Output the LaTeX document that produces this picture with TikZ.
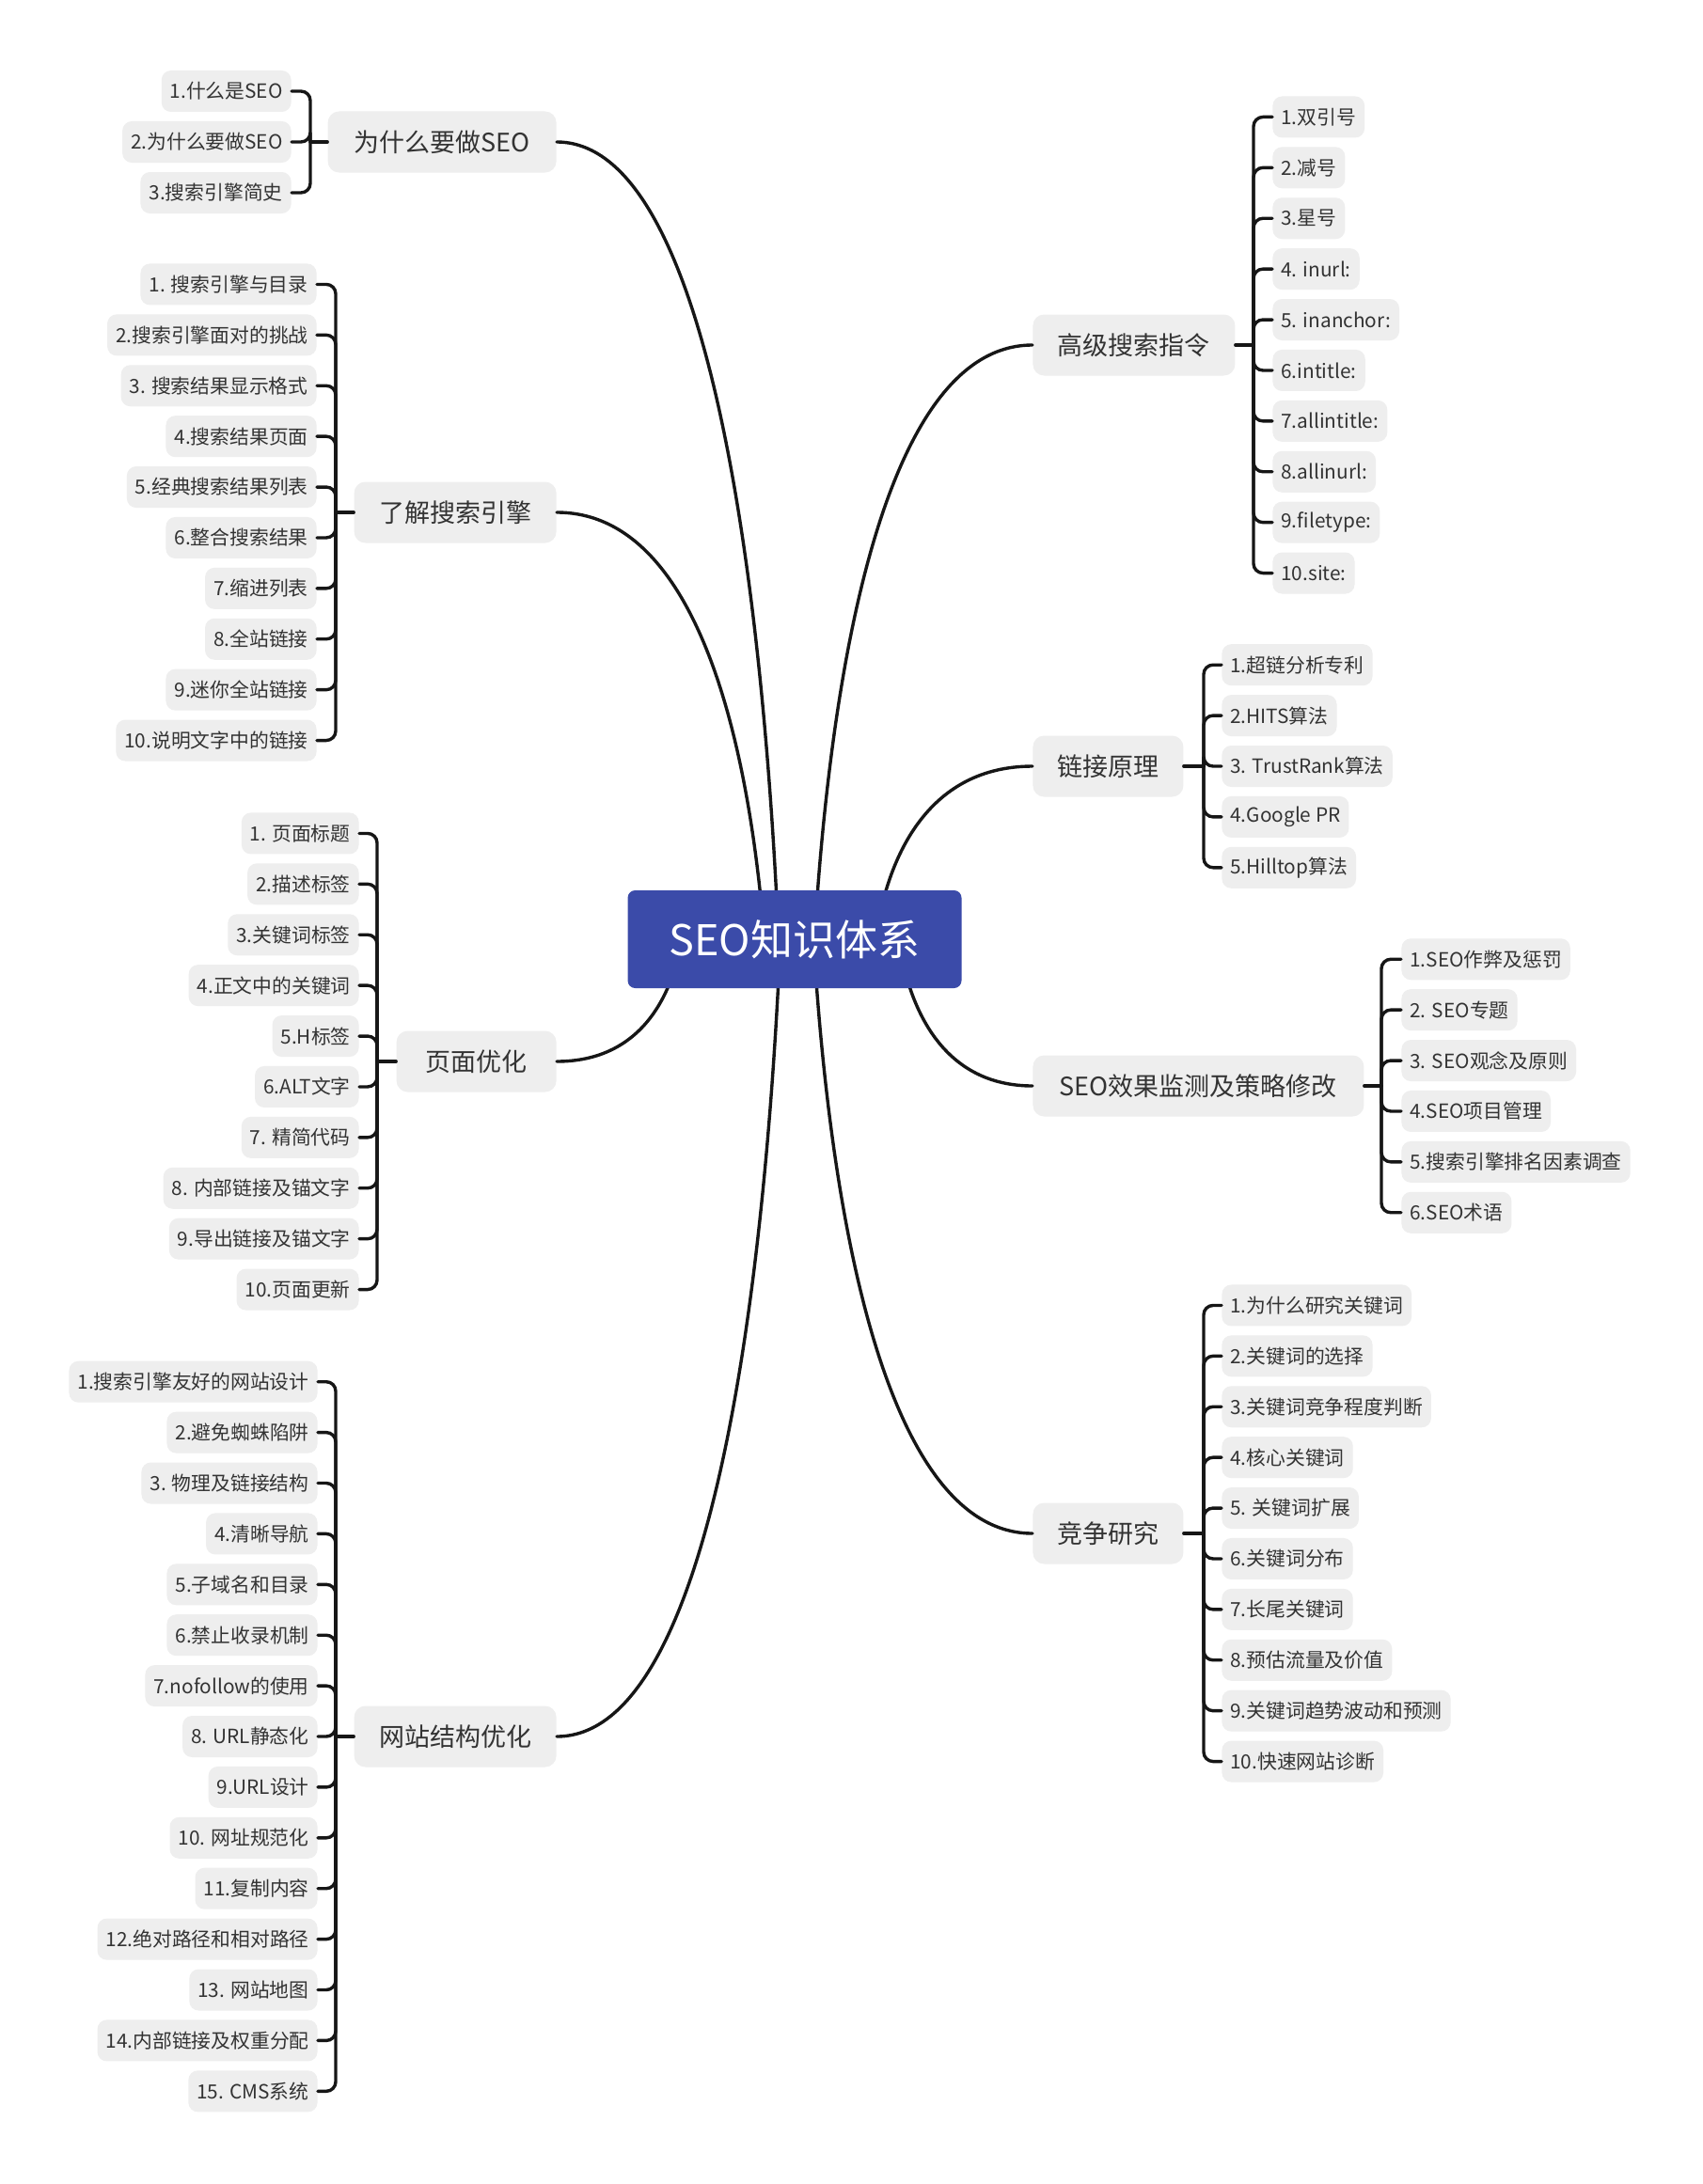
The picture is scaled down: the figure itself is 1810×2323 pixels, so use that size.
\documentclass[tikz,border=0pt]{standalone}
\usepackage{fontspec}
\setmainfont{Noto Sans CJK SC}
\definecolor{rootblue}{HTML}{3B4BA9}
\definecolor{boxgray}{HTML}{EEEEEE}
\definecolor{txt}{HTML}{333333}
\definecolor{linec}{HTML}{161616}
\begin{document}
\begin{tikzpicture}[x=0.5pt,y=-0.5pt,
 leaf/.style={fill=boxgray, rounded corners=5pt, text=txt, inner xsep=4.5pt, inner ysep=0pt, minimum height=22pt, font=\fontsize{10.4pt}{12.5pt}\selectfont},
 topic/.style={fill=boxgray, rounded corners=6pt, text=txt, inner xsep=13pt, inner ysep=0pt, minimum height=32.5pt, font=\fontsize{13.5pt}{16pt}\selectfont},
 rootbox/.style={fill=rootblue, rounded corners=4pt, text=white, inner ysep=0pt, minimum width=177.5pt, minimum height=52pt, font=\fontsize{22.5pt}{26pt}\selectfont},
 conn/.style={draw=linec, line width=1.7pt, line cap=round},
 br/.style={conn, rounded corners=5pt}]
\fill[white] (0,0) rectangle (1810,2323);
\useasboundingbox (0,0) rectangle (1810,2323);

% level-1 topics
\node[topic, anchor=east, minimum width=121.5pt] (n1) at (592,151) {为什么要做SEO};
\node[topic, anchor=east, minimum width=107.5pt] (n2) at (592,545) {了解搜索引擎};
\node[topic, anchor=east, minimum width=85pt] (n3) at (592,1129) {页面优化};
\node[topic, anchor=east, minimum width=107.5pt] (n4) at (592,1847) {网站结构优化};
\node[topic, anchor=west, minimum width=107.5pt] (n5) at (1098,367) {高级搜索指令};
\node[topic, anchor=west, minimum width=80pt] (n6) at (1098,815) {链接原理};
\node[topic, anchor=west, minimum width=176pt] (n7) at (1098,1155) {SEO效果监测及策略修改};
\node[topic, anchor=west, minimum width=80pt] (n8) at (1098,1631) {竞争研究};

% bracket junctions
\coordinate (j1) at (330,151);
\coordinate (j2) at (357,545);
\coordinate (j3) at (401,1129);
\coordinate (j4) at (357,1847);
\coordinate (j5) at (1333,367);
\coordinate (j6) at (1280,815);
\coordinate (j7) at (1469,1155);
\coordinate (j8) at (1280,1631);

\draw[conn] (n1.west) -- (j1);
\draw[conn] (n2.west) -- (j2);
\draw[conn] (n3.west) -- (j3);
\draw[conn] (n4.west) -- (j4);
\draw[conn] (n5.east) -- (j5);
\draw[conn] (n6.east) -- (j6);
\draw[conn] (n7.east) -- (j7);
\draw[conn] (n8.east) -- (j8);

% leaves, left side
\foreach \t [count=\i] in {1.什么是SEO,2.为什么要做SEO,3.搜索引擎简史}{
  \node[leaf, anchor=east] (b1l\i) at (310,{151+(\i-2)*54}) {\t};
  \draw[br] (j1) |- (b1l\i.east);
}
\foreach \t [count=\i] in {1. 搜索引擎与目录,2.搜索引擎面对的挑战,3. 搜索结果显示格式,4.搜索结果页面,5.经典搜索结果列表,6.整合搜索结果,7.缩进列表,8.全站链接,9.迷你全站链接,10.说明文字中的链接}{
  \node[leaf, anchor=east] (b2l\i) at (337,{545+(\i-5.5)*53.9}) {\t};
  \draw[br] (j2) |- (b2l\i.east);
}
\foreach \t [count=\i] in {1. 页面标题,2.描述标签,3.关键词标签,4.正文中的关键词,5.H标签,6.ALT文字,7. 精简代码,8. 内部链接及锚文字,9.导出链接及锚文字,10.页面更新}{
  \node[leaf, anchor=east] (b3l\i) at (382,{1129+(\i-5.5)*53.9}) {\t};
  \draw[br] (j3) |- (b3l\i.east);
}
\foreach \t [count=\i] in {1.搜索引擎友好的网站设计,2.避免蜘蛛陷阱,3. 物理及链接结构,4.清晰导航,5.子域名和目录,6.禁止收录机制,7.nofollow的使用,8. URL静态化,9.URL设计,10. 网址规范化,11.复制内容,12.绝对路径和相对路径,13. 网站地图,14.内部链接及权重分配,15. CMS系统}{
  \node[leaf, anchor=east] (b4l\i) at (338,{1847+(\i-8)*53.9}) {\t};
  \draw[br] (j4) |- (b4l\i.east);
}

% leaves, right side
\foreach \t [count=\i] in {1.双引号,2.减号,3.星号,4. inurl:,5. inanchor:,6.intitle:,7.allintitle:,8.allinurl:,9.filetype:,10.site:}{
  \node[leaf, anchor=west] (b5l\i) at (1353,{367+(\i-5.5)*53.9}) {\t};
  \draw[br] (j5) |- (b5l\i.west);
}
\foreach \t [count=\i] in {1.超链分析专利,2.HITS算法,3. TrustRank算法,4.Google PR,5.Hilltop算法}{
  \node[leaf, anchor=west] (b6l\i) at (1299,{815+(\i-3)*53.9}) {\t};
  \draw[br] (j6) |- (b6l\i.west);
}
\foreach \t [count=\i] in {1.SEO作弊及惩罚,2. SEO专题,3. SEO观念及原则,4.SEO项目管理,5.搜索引擎排名因素调查,6.SEO术语}{
  \node[leaf, anchor=west] (b7l\i) at (1490,{1155+(\i-3.5)*53.9}) {\t};
  \draw[br] (j7) |- (b7l\i.west);
}
\foreach \t [count=\i] in {1.为什么研究关键词,2.关键词的选择,3.关键词竞争程度判断,4.核心关键词,5. 关键词扩展,6.关键词分布,7.长尾关键词,8.预估流量及价值,9.关键词趋势波动和预测,10.快速网站诊断}{
  \node[leaf, anchor=west] (b8l\i) at (1299,{1631+(\i-5.5)*53.9}) {\t};
  \draw[br] (j8) |- (b8l\i.west);
}

% curve start points (hidden behind the root)
\coordinate (s1) at (828,999);
\coordinate (s2) at (813,999);
\coordinate (s3) at (725,999);
\coordinate (s4) at (830,999);
\coordinate (s5) at (866,999);
\coordinate (s6) at (931,999);
\coordinate (s7) at (955.5,999);
\coordinate (s8) at (865,999);

\draw[conn] (s1) .. controls (809,575) and (745,151) .. (n1.east);
\draw[conn] (s2) .. controls (795,772) and (736,545) .. (n2.east);
\draw[conn] (s3) .. controls (714,1064) and (678.5,1129) .. (n3.east);
\draw[conn] (s4) .. controls (811,1423) and (747,1847) .. (n4.east);
\draw[conn] (s5) .. controls (885,683) and (947,367) .. (n5.west);
\draw[conn] (s6) .. controls (944,907) and (989.5,815) .. (n6.west);
\draw[conn] (s7) .. controls (967,1077) and (1005,1155) .. (n7.west);
\draw[conn] (s8) .. controls (884,1315) and (946.5,1631) .. (n8.west);

% root
\node[rootbox] (root) at (845,999) {SEO知识体系};
\end{tikzpicture}
\end{document}
